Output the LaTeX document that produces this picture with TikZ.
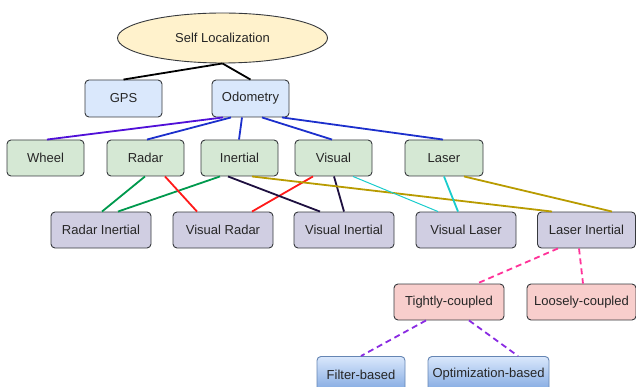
\documentclass[tikz,border=0pt]{standalone}
\usepackage{fontspec}
\setmainfont{Liberation Sans}
\usetikzlibrary{shapes.geometric}

\definecolor{strokegray}{HTML}{36393D}
\definecolor{fillyellow}{HTML}{FFF2CC}
\definecolor{fillblue}{HTML}{DAE8FC}
\definecolor{fillgreen}{HTML}{D5E8D4}
\definecolor{fillpurple}{HTML}{D0CEE2}
\definecolor{fillred}{HTML}{F8CECC}
\definecolor{shadeblue}{HTML}{7EA6E0}
\definecolor{edgeviolet}{HTML}{5010D8}
\definecolor{edgeblue}{HTML}{1C2FCC}
\definecolor{edgegreen}{HTML}{00994D}
\definecolor{edgered}{HTML}{FF1A1A}
\definecolor{edgenavy}{HTML}{1E1040}
\definecolor{edgeolive}{HTML}{B89B00}
\definecolor{edgecyan}{HTML}{1ACCCC}
\definecolor{edgepink}{HTML}{FF3399}
\definecolor{edgepurple}{HTML}{8A2BE2}

\tikzset{
  box/.style={draw=strokegray, line width=0.9pt, rounded corners=4pt, minimum height=36pt, inner sep=0pt, text=black!85, font=\fontsize{13}{15}\selectfont},
  link/.style={line width=1.8pt},
  dashlink/.style={line width=1.8pt, dash pattern=on 6pt off 4pt}
}

\begin{document}
\begin{tikzpicture}[x=1pt,y=1pt,yscale=-1,xscale=1]
\useasboundingbox (0,0) rectangle (636,387);

%Shape: Ellipse
\node [ellipse, draw=strokegray, line width=0.9pt, fill=fillyellow, minimum width=210pt, minimum height=50pt, inner sep=0pt, text=black!85, font=\fontsize{13}{15}\selectfont] (selfloc) at (222.5,38) {Self Localization};

%Shape: Rectangle (first level)
\node [box, fill=fillblue, minimum width=77pt, minimum height=37pt] (gps) at (123.5,98.5) {GPS};
\node [box, fill=fillblue, minimum width=77pt, minimum height=37pt] (odometry) at (250.5,98.5) {Odometry};

%Shape: Rectangle (sensors)
\node [box, fill=fillgreen, minimum width=77pt] (wheel) at (45.5,158) {Wheel};
\node [box, fill=fillgreen, minimum width=77pt] (radar) at (145.5,158) {Radar};
\node [box, fill=fillgreen, minimum width=77pt] (inertial) at (239.5,158) {Inertial};
\node [box, fill=fillgreen, minimum width=77pt] (visual) at (333.5,158) {Visual};
\node [box, fill=fillgreen, minimum width=78pt] (laser) at (444,158) {Laser};

%Shape: Rectangle (fusions)
\node [box, fill=fillpurple, minimum width=100pt] (radarinertial) at (101,230) {Radar Inertial};
\node [box, fill=fillpurple, minimum width=100pt] (visualradar) at (223,230) {Visual Radar};
\node [box, fill=fillpurple, minimum width=100pt] (visualinertial) at (344,230) {Visual Inertial};
\node [box, fill=fillpurple, minimum width=100pt] (visuallaser) at (466,230) {Visual Laser};
\node [box, fill=fillpurple, minimum width=98pt] (laserinertial) at (586.5,230) {Laser Inertial};

%Shape: Rectangle (coupling)
\node [box, fill=fillred, minimum width=110pt] (tightly) at (449,302) {Tightly-coupled};
\node [box, fill=fillred, minimum width=109pt] (loosely) at (581.5,302) {Loosely-coupled};

%Shape: Rectangle (methods)
\node [box, draw=shadeblue!80!black, top color=fillblue, bottom color=shadeblue, minimum width=88pt, anchor=north] (filter) at (361,356) {Filter-based};
\node [box, draw=shadeblue!80!black, top color=fillblue, bottom color=shadeblue, minimum width=121pt, anchor=north] (optim) at (488.5,356) {Optimization-based};

%Straight Lines
\draw [link, black] (selfloc.south) -- (gps.north);
\draw [link, black] (selfloc.south) -- (odometry.north);

\draw [link, edgeviolet] ([xshift=-27.5pt]odometry.south) -- ([xshift=1.5pt]wheel.north);
\draw [link, edgeblue] ([xshift=-19.5pt]odometry.south) -- ([xshift=1.5pt]radar.north);
\draw [link, edgeblue] ([xshift=-8.5pt]odometry.south) -- ([xshift=-0.5pt]inertial.north);
\draw [link, edgeblue] ([xshift=11.5pt]odometry.south) -- ([xshift=-1.5pt]visual.north);
\draw [link, edgeblue] ([xshift=31.5pt]odometry.south) -- ([xshift=-1pt]laser.north);

\draw [link, edgegreen] ([xshift=-0.5pt]radar.south) -- ([xshift=1pt]radarinertial.north);
\draw [link, edgegreen] ([xshift=-19.5pt]inertial.south) -- ([xshift=17pt]radarinertial.north);
\draw [link, edgered] ([xshift=19.5pt]radar.south) -- ([xshift=-26pt]visualradar.north);
\draw [link, edgered] ([xshift=-20.5pt]visual.south) -- ([xshift=29pt]visualradar.north);
\draw [link, edgenavy] ([xshift=-11.5pt]inertial.south) -- ([xshift=-24pt]visualinertial.north);
\draw [link, edgenavy] ([xshift=0.5pt]visual.south) -- (visualinertial.north);
\draw [link, edgeolive] ([xshift=12.5pt]inertial.south) -- ([xshift=-34.5pt]laserinertial.north);
\draw [line width=1pt, edgecyan] ([xshift=19.5pt]visual.south) -- ([xshift=-28pt]visuallaser.north);
\draw [link, edgecyan] (laser.south) -- ([xshift=-8pt]visuallaser.north);
\draw [link, edgeolive] ([xshift=20pt]laser.south) -- ([xshift=25.5pt]laserinertial.north);

%Dashed Lines
\draw [dashlink, edgepink] ([xshift=-28.5pt]laserinertial.south) -- ([xshift=28pt]tightly.north);
\draw [dashlink, edgepink] ([xshift=-7.5pt]laserinertial.south) -- ([xshift=1.5pt]loosely.north);
\draw [dashlink, edgepurple] ([xshift=-23pt]tightly.south) -- (filter.north);
\draw [dashlink, edgepurple] ([xshift=20pt]tightly.south) -- ([xshift=29.5pt]optim.north);

\end{tikzpicture}
\end{document}
